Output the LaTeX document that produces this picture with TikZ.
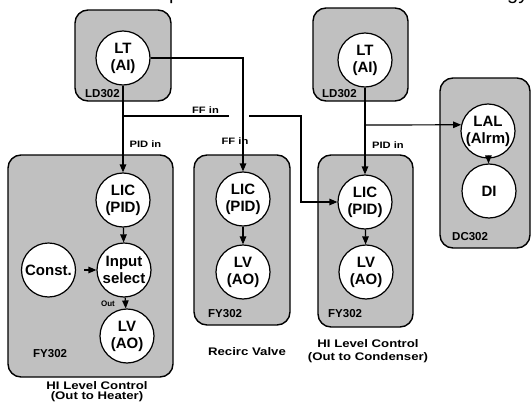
\documentclass[tikz,border=0pt]{standalone}
\usepackage{fontspec}
\setmainfont{Liberation Sans}
\newfontfamily\widefont[FakeStretch=1.2]{Liberation Sans}
\usetikzlibrary{arrows.meta}
\definecolor{boxgray}{HTML}{C0C0C0}
\begin{document}
\begin{tikzpicture}[x=1pt,y=-1pt,
  devbox/.style={draw=black, line width=1.4pt, fill=boxgray, rounded corners=13pt, inner sep=0pt},
  blk/.style={circle, draw=black, line width=1.2pt, fill=white, minimum size=54pt, inner sep=0pt, align=center, font=\fontsize{15}{17}\selectfont\bfseries},
  lbl/.style={font=\fontsize{11.5}{13}\selectfont\bfseries, inner sep=0pt},
  sig/.style={font=\widefont\fontsize{9.3}{11}\selectfont\bfseries, inner sep=0pt},
  ttl/.style={align=center, inner sep=0pt},
  wire/.style={line width=1.2pt},
  arr/.style={wire, -{Triangle[length=8pt,width=6.5pt]}}]
\useasboundingbox (0,0) rectangle (531,407);
% cut-off title fragments
\node[anchor=base west, inner sep=0pt, font=\fontsize{20}{20}\selectfont] (frA) at (169,-1) {p};
\node[anchor=base west, inner sep=0pt, font=\fontsize{20}{20}\selectfont] (frB) at (507,-1) {gy};
% device boxes
\node[devbox, minimum width=96pt, minimum height=91pt] (bxA) at (123,55.5) {};
\node[devbox, minimum width=95pt, minimum height=93pt] (bxB) at (360.5,54.5) {};
\node[devbox, minimum width=165pt, minimum height=222pt] (bxC) at (90.5,266) {};
\node[devbox, minimum width=96pt, minimum height=170pt] (bxD) at (242,240) {};
\node[devbox, minimum width=95pt, minimum height=172pt] (bxE) at (365.5,241) {};
\node[devbox, minimum width=90pt, minimum height=170pt] (bxF) at (485,163) {};
% box labels
\node[lbl, anchor=base west] (tA) at (85,97) {LD302};
\node[lbl, anchor=base west] (tB) at (322,97) {LD302};
\node[lbl, anchor=base west] (tC) at (33,357) {FY302};
\node[lbl, anchor=base west] (tD) at (208,317) {FY302};
\node[lbl, anchor=base west] (tE) at (328,317) {FY302};
\node[lbl, anchor=base west] (tF) at (452,240) {DC302};
% blocks
\node[blk] (LT1) at (123,58) {LT\\(AI)};
\node[blk] (LT2) at (365,60) {LT\\(AI)};
\node[blk] (LIC1) at (123,200) {LIC\\(PID)};
\node[blk] (Inp) at (124,270) {Input\\select};
\node[blk] (Const) at (48.5,270) {Const.};
\node[blk] (LV1) at (127,336) {LV\\(AO)};
\node[blk] (LIC2) at (243,199) {LIC\\(PID)};
\node[blk] (LV2) at (243,272) {LV\\(AO)};
\node[blk] (LIC3) at (365,202) {LIC\\(PID)};
\node[blk] (LV3) at (366,272) {LV\\(AO)};
\node[blk] (LAL) at (488,131) {LAL\\(Alrm)};
\node[blk] (DI) at (489,191) {DI};
% connectors
\draw[arr] (LT1.south) -- (LIC1.north);
\draw[arr] (LT1.east) -| (LIC2.north);
\coordinate (ffa) at (123,116);
\coordinate (ffb) at (229,116);
\coordinate (ffc) at (249,116);
\coordinate (ffd) at (301,116);
\draw[wire] (ffa) -- (ffb);
\draw[arr] (ffc) -- (ffd) |- (LIC3.west);
\draw[arr] (LT2.south) -- (LIC3.north);
\coordinate (pa) at (365,125);
\draw[arr] (pa) -- (LAL.167);
\draw[arr] (LIC1) -- (Inp);
\draw[arr, shorten <=8pt] (Const) -- (Inp);
\draw[arr] (Inp) -- (LV1);
\draw[arr] (LIC2) -- (LV2);
\draw[arr] (LIC3) -- (LV3);
\draw[arr] (LAL) -- (DI);
% signal labels
\node[sig, anchor=base] (sFF1) at (205.5,113) {FF in};
\node[sig, anchor=base] (sFF2) at (235,144) {FF in};
\node[sig, anchor=base] (sPID1) at (145.5,147) {PID in};
\node[sig, anchor=base] (sPID2) at (388,148) {PID in};
\node[inner sep=0pt, anchor=base, font=\fontsize{8}{9}\selectfont\bfseries] (sOut) at (108,306) {Out};
% titles
\node[ttl, font=\widefont\fontsize{11}{10}\selectfont\bfseries] (ttlA) at (97,392) {HI Level Control\\(Out to Heater)};
\node[ttl, font=\widefont\fontsize{11}{13}\selectfont\bfseries] (ttlB) at (247,352) {Recirc Valve};
\node[ttl, font=\widefont\fontsize{11}{13}\selectfont\bfseries] (ttlC) at (368,351) {HI Level Control\\(Out to Condenser)};
\end{tikzpicture}
\end{document}
